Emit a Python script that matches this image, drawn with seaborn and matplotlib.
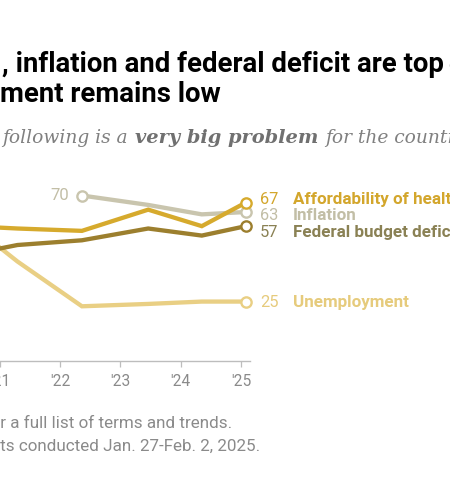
import matplotlib
matplotlib.use("Agg")
import matplotlib.pyplot as plt
import seaborn as sns
import pandas as pd
import numpy as np

# ---------------- data ----------------
dates = [2020.5, 2021.29, 2022.36, 2023.46, 2024.35, 2025.08]
health = [57, 56, 55, 64, 57, 67]
inflation = [np.nan, np.nan, 70, 66, 62, 63]
deficit = [45, 49, 51, 56, 53, 57]
unemployment = [58, 42, 23, 24, 25, 25]

series_names = ["Inflation", "Unemployment", "Federal budget deficit",
                "Affordability of health care"]
series_values = [inflation, unemployment, deficit, health]
end_labels = ["63", "25", "57", "67"]
tick_years = [2021, 2022, 2023, 2024, 2025]
tick_labels = ["'21", "'22", "'23", "'24", "'25"]

line_colors = {"Inflation": "#C9C5AE", "Unemployment": "#E9CF84",
               "Federal budget deficit": "#9C7F2E",
               "Affordability of health care": "#D6AA2D"}
text_colors = {"Inflation": "#C2BEA6", "Unemployment": "#E6CB7C",
               "Federal budget deficit": "#8A8154",
               "Affordability of health care": "#D3A62C"}
# label baselines (data units) chosen to avoid overlap
label_base = {"Affordability of health care": 66.6, "Inflation": 59.8,
              "Federal budget deficit": 52.4, "Unemployment": 22.6}

rows = []
for name, vals in zip(series_names, series_values):
    for d, v in zip(dates, vals):
        rows.append({"date": d, "value": v, "series": name})
df = pd.DataFrame(rows).dropna()

# ---------------- figure ----------------
sns.set_theme(style="white")
W, H = 450, 500
fig = plt.figure(figsize=(W / 100, H / 100), dpi=100)
fig.patch.set_facecolor("white")
renderer = fig.canvas.get_renderer()

def fx(px):
    return px / W

def fy(py):
    return 1 - py / H

y0_px = 360.5
px_per_unit = 2.357
ymax = 80
ax = fig.add_axes([0, fy(y0_px), fx(250), ymax * px_per_unit / H])
ax.set_xlim(2025 - 240.7 / 62, 2025 + (250 - 240.7) / 62)
ax.set_ylim(0, ymax)

sns.lineplot(data=df, x="date", y="value", hue="series", hue_order=series_names,
             palette=line_colors, linewidth=3.1, ax=ax, legend=False,
             solid_joinstyle="miter")
for ln in ax.lines:
    ln.set_clip_on(False)

# end markers
end_df = pd.DataFrame({"date": [dates[-1]] * 4,
                       "value": [v[-1] for v in series_values],
                       "series": series_names})
start_df = pd.DataFrame({"date": [dates[2]], "value": [inflation[2]],
                         "series": ["Inflation"]})
for sub in (start_df, end_df):
    for _, r in sub.iterrows():
        ax.plot(r["date"], r["value"], marker="o", markersize=7.4,
                markerfacecolor="white", markeredgecolor=line_colors[r["series"]],
                markeredgewidth=1.7, clip_on=False, zorder=5)

# axes styling
for s in ["left", "right", "top"]:
    ax.spines[s].set_visible(False)
ax.spines["bottom"].set_color("#BDBDBD")
ax.spines["bottom"].set_linewidth(1.0)
ax.set_yticks([])
ax.set_xticks(tick_years)
ax.set_xticklabels(tick_labels, fontsize=11.2, color="#8A8A8A", family="Roboto")
ax.tick_params(axis="x", direction="out", length=4.5, width=0.9, color="#BDBDBD",
               pad=5, bottom=True)
ax.set_xlabel("")
ax.set_ylabel("")
ax.grid(False)

def fit_size(s, target_px, base=20, **kw):
    t = fig.text(0, 0, s, fontsize=base, **kw)
    w = t.get_window_extent(renderer).width
    t.remove()
    return base * target_px / w

# start label "70"
ax.annotate("70", xy=(dates[2], inflation[2]), xytext=(-9, 0),
            textcoords="offset points", ha="right", va="center",
            fontsize=12, color=text_colors["Inflation"], family="Roboto")

# end labels
val_fs = fit_size("67", 18.5, family="Roboto")
lab_fs = fit_size("Unemployment", 116, family="Roboto", weight="bold")
for name, lab in zip(series_names, end_labels):
    yb = label_base[name]
    ax.annotate(lab, xy=(dates[-1], yb), xytext=(10.3, 0),
                textcoords="offset points", ha="left", va="baseline",
                fontsize=val_fs, color=text_colors[name], family="Roboto",
                annotation_clip=False)
    ax.annotate(name, xy=(dates[-1], yb), xytext=(34.1, 0),
                textcoords="offset points", ha="left", va="baseline",
                fontsize=lab_fs, color=text_colors[name], family="Roboto",
                weight="bold", annotation_clip=False)

# ---------------- title ----------------
title1a = ", inflation and federal deficit are top"
title1b = "concerns;"
title2 = "ment remains low"
t_fs = fit_size(title1a, 441, family="Roboto", weight="bold")
fig.text(fx(2), fy(72), title1a, fontsize=t_fs, weight="bold", family="Roboto",
         color="black", ha="left", va="baseline")
fig.text(fx(448.5), fy(72), title1b, fontsize=t_fs, weight="bold", family="Roboto",
         color="black", ha="left", va="baseline")
fig.text(fx(-0.5), fy(102), title2, fontsize=t_fs, weight="bold", family="Roboto",
         color="black", ha="left", va="baseline")

# ---------------- subtitle ----------------
sub_fs = fit_size("following is a", 126, family="DejaVu Serif", style="italic")
bold_fs = fit_size("very big problem", 183, family="DejaVu Serif", style="italic",
                   weight="bold")
fig.text(fx(2), fy(143), "following is a", fontsize=sub_fs, style="italic",
         family="DejaVu Serif", color="#808080", ha="left", va="baseline")
fig.text(fx(135), fy(143), "very big problem", fontsize=bold_fs, style="italic",
         weight="bold", family="DejaVu Serif", color="#707070", ha="left",
         va="baseline")
fig.text(fx(325), fy(143), "for the country today", fontsize=sub_fs,
         style="italic", family="DejaVu Serif", color="#808080", ha="left",
         va="baseline")

# ---------------- notes ----------------
note1 = "Note: See topline for a full list of terms and trends."
note2 = "Source: Survey of U.S. adults conducted Jan. 27-Feb. 2, 2025."
n_fs = fit_size("a full list of terms and trends.", 220, family="Roboto")
fig.text(fx(232), fy(428), note1, fontsize=n_fs, family="Roboto",
         color="#8A8A8A", ha="right", va="baseline")
fig.text(fx(260), fy(451), note2, fontsize=n_fs, family="Roboto",
         color="#8A8A8A", ha="right", va="baseline")

fig.savefig("out.png", dpi=100, facecolor="white")
